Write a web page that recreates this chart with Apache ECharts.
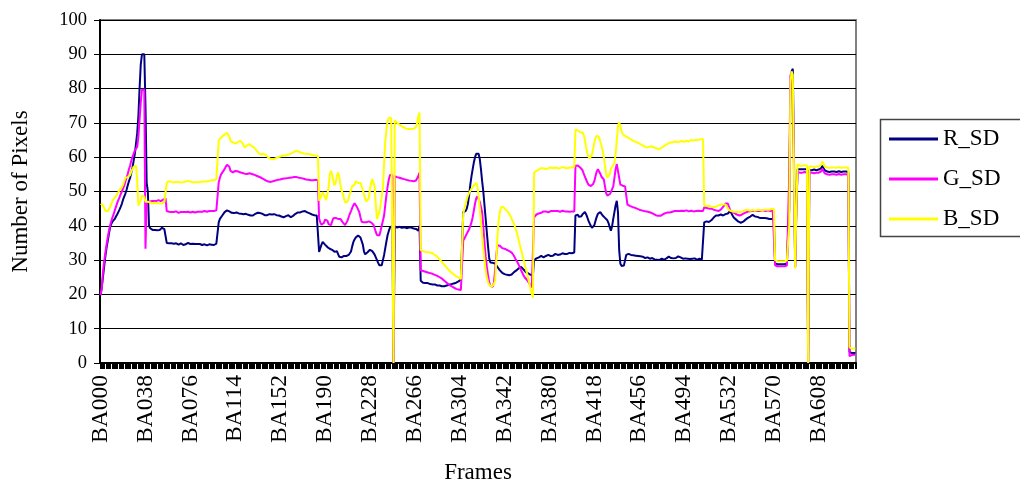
<!DOCTYPE html>
<html>
<head>
<meta charset="utf-8">
<script src="https://cdn.jsdelivr.net/npm/echarts@6/dist/echarts.min.js"></script>
<style>
html,body{margin:0;padding:0;background:#fff;}
#chart{width:1020px;height:489px;}
</style>
</head>
<body>
<div id="chart"></div>
<script>
// Frame labels BA000 ... BA639
const frameCount = 640;
const categories = [];
for (let i = 0; i < frameCount; i++) categories.push('BA' + String(i).padStart(3, '0'));

const seriesNames = ['R_SD', 'G_SD', 'B_SD'];
const yTicks = [0, 10, 20, 30, 40, 50, 60, 70, 80, 90, 100];

const rSD = [
19.8,22,25,28,31,33.5,35.5,37.5,39.5,40.5,41.2,41.7,42,42.7,43.3,44,44.7,45.5,46.4,47.6,
48.5,49.4,50.5,51.8,53,54,55.5,57,59,61,64,67,72,80,87,90,90.2,90,75,52.6,
50,40,39.3,39,38.8,38.7,38.8,38.9,38.7,38.6,38.8,39.2,39.4,39.3,39,38.9,35,34.8,34.9,35.1,
34.9,34.7,34.8,35,34.9,34.6,34.5,34.7,34.9,34.8,34.4,34.3,34.6,34.9,35,34.8,34.7,34.6,34.8,34.9,
34.7,34.6,34.7,34.8,34.7,34.5,34.4,34.5,34.6,34.4,34.3,34.5,34.6,34.7,34.5,34.3,34.4,34.6,34.8,35.2,
41,42,42.5,43,43.5,44,44.3,44.5,44.5,44.2,44,43.8,43.9,43.7,43.8,43.9,43.8,43.6,43.7,43.5,
43.5,43.4,43.3,43.5,43.4,43.2,43.1,43,43.1,43,43.2,43.5,43.7,43.8,43.8,43.7,43.6,43.5,43.3,43.1,
43,43.1,43.2,43.4,43.5,43.3,43.2,43.4,43.3,43.1,43,43,42.8,42.7,42.6,42.5,42.6,42.8,43,43.1,
42.7,42.5,42.6,42.9,43.2,43.5,43.8,43.9,43.8,43.9,44,44.2,44.3,44.3,44.1,43.9,43.7,43.6,43.4,43.3,
43.2,43.1,43,43,43.1,32.4,33.5,34.5,35.3,35,34.5,34.3,33.8,33.4,33.3,33.2,33,32.7,32.4,32.8,
32.6,31.8,31,30.5,30.8,31.2,31.2,31.3,31.2,31.4,31.5,31.6,32.5,34,35.3,36,36.6,37,37.2,37,
36.6,36.2,34.5,32.5,31.7,31.9,32.3,32.7,33,32.9,32.6,32.1,31.6,30.8,30,29.2,28.5,28.2,28.5,30,
31.5,33.5,35.5,37.3,38.5,39.5,40,40,0,39.8,39.6,39.5,39.6,39.7,39.5,39.4,39.5,39.6,39.4,39.3,
39.4,39.5,39.6,39.5,39.3,39.2,39.3,39.1,39,38.6,40,24,23.6,23.4,23.5,23.3,23.2,23.3,23.1,23,
23,22.9,22.8,22.9,22.8,22.6,22.5,22.6,22.5,22.4,22.5,22.4,22.5,22.6,22.7,22.8,22.9,23,23.1,23.2,
23.3,23.4,23.6,23.8,24,24.3,24.6,44,44,44.3,45,46.5,49,52,54.5,56.5,58.5,60,61,61.2,
61,59.5,56.5,53,50,46,42,38,34,30.5,29.3,29,29.2,29.1,29,28.5,28,27.5,27,26.7,
26.3,26,25.9,25.8,25.7,25.6,25.6,25.6,25.8,26.1,26.5,26.8,27,27.3,27.6,27.9,28,27.8,27.3,26.8,
26.5,26.3,26.1,25.9,25.7,25.6,25.6,30,30.3,30.5,30.6,30.8,31,31.2,31,30.8,31,31.2,31.4,31.5,
31.3,31.2,31.1,31.3,31.6,31.8,31.7,31.5,31.4,31.6,31.8,32,32,31.8,31.7,31.8,32,32.1,32,32,
32.1,32.2,43,43.5,43.2,42.6,42.4,42.8,43.4,43.8,44,43.4,42.5,41.5,40.7,40,39.4,39.3,40.2,41.5,
42.6,43.5,44,44,43.5,43,42.5,42.3,42,41.6,40.8,39.6,38.6,39.8,42,44,46,47.3,44,33,
29,28.3,28,28.4,30,31.5,32,31.8,31.6,31.5,31.6,31.4,31.2,31.3,31.4,31.2,31,31.1,31.2,31,
30.8,30.6,30.7,30.8,30.6,30.4,30.5,30.6,30.4,30.2,30.3,30.1,29.9,30,30.2,30.4,30.3,30.1,30.2,30.5,
30.8,31,30.8,30.6,30.7,30.5,30.4,30.6,30.9,31.1,31,30.8,30.6,30.4,30.3,30.5,30.6,30.4,30.2,30.3,
30.5,30.4,30.2,30.5,30.3,30.1,30.2,30.4,30.2,30.1,30.2,41,41.2,41.3,41.2,41.1,41.3,41.6,42,42.4,
42.8,43,43.1,43,43.2,43.3,43.1,43,43.2,43.4,43.3,43.6,44,44.3,43.8,43,42.4,42.1,41.8,41.5,
41.2,41,40.9,40.9,41.2,41.5,41.8,42,42.3,42.5,42.7,43,43.2,43,42.7,42.5,42.6,42.4,42.3,42.4,
42.3,42.2,42.3,42.1,42.2,42.1,42,42.1,42,42,42,29,28.9,28.8,28.9,28.8,28.7,28.8,28.9,28.8,
28.9,29,29,45,80,85,85.8,60,28,45,56.5,56.6,56.5,56.4,56.5,56.6,56.5,56.4,56.5,0,
56.3,56.3,56.2,56.3,56.4,56.3,56.2,56.3,56.4,56.5,56.8,57.5,57.2,56.2,55.9,55.8,55.8,55.7,55.8,55.8,
55.7,55.8,55.8,55.7,55.8,55.9,55.8,55.7,55.8,55.8,55.7,55.8,55.8,55.7,3.2,3,2.9,2.9,2.9,2.9
];

const gSD = [
19.8,22,26.5,29.5,32,34.5,36.5,38.5,40,41.3,42.4,43.3,44.5,45.5,46.6,47.5,48.3,49.2,50,50.8,
51.7,52.9,54,55.2,56.5,57.6,59,60,61,62,62.3,63,66,71,76,79.7,79.8,79.7,33.3,47,
47.2,47,47.1,47.2,47.3,47.2,47.1,47.2,47.4,47.5,47.3,47.2,47.4,47.6,47.8,48,44.3,44,44.1,44.2,
44,43.9,44,44.1,44.2,44,43.8,43.9,44,44.1,44,43.9,44,44.2,44.1,44,43.9,44,44.1,44,
43.9,44,44.1,44.2,44.1,44,44.1,44.2,44.3,44.2,44.1,44.2,44.3,44.4,44.3,44.2,44.3,44.4,44.5,44.6,
52.6,54,55,55.5,56,56.5,57.2,57.8,58,57.2,56,55.5,55.6,55.8,56,56,55.9,55.8,55.6,55.5,
55.4,55.3,55.2,55.1,55.1,55.2,55.3,55.2,55.1,55,54.9,54.8,54.6,54.4,54.3,54.2,54,53.8,53.6,53.4,
53.2,53,52.9,52.8,52.8,52.9,53,53.1,53.2,53.3,53.4,53.5,53.5,53.6,53.7,53.7,53.8,53.8,53.9,54,
54,54.1,54.1,54.2,54.2,54.2,54.2,54.1,54,54,53.9,53.8,53.7,53.6,53.5,53.4,53.4,53.3,53.3,53.3,
53.3,53.3,53.4,53.3,53.3,42,41,40.3,40,40.8,41.8,42,41.5,40.5,40,40.2,41.2,42.2,42.5,42.3,
42,42,42.1,42,41.5,41,40.5,40.2,40.5,41.5,42.5,43.5,44.3,45.2,46,46.6,46.4,45.5,45.2,44,
42.5,41.2,41,41,41.1,41,41.2,41.3,41.1,41,40.8,40.3,39.3,38.2,37.3,36.8,37.2,38.5,40,41.5,
43,46,49,51.5,53.5,54.8,55,54.8,0,54.5,54.3,54.2,54.1,54,53.9,53.8,53.7,53.6,53.5,53.4,
53.3,53.2,53.1,53.1,53,53,53,53.2,53.6,54.5,55.5,27,26.8,26.8,26.7,26.6,26.5,26.4,26.3,26.2,
26.1,26,25.8,25.7,25.6,25.4,25.2,25,24.8,24.6,24.3,24,23.7,23.4,23.1,22.8,22.6,22.4,22.2,22,
21.8,21.6,21.5,21.4,21.3,21.3,21.3,35.7,36.3,37,37.7,38.2,39,40,41,42.5,44.5,46.5,48,48.6,
48.3,47,45.5,44,40,35,31,28,25.5,23.5,22.5,22,22.2,23.5,27,31.5,34.3,34.5,34.2,33.8,
33.5,33.4,33.3,33.2,33,32.8,32.6,32.4,32.2,31.8,31.2,30.5,30,29.3,28.6,27.8,27,26.3,25.6,25,
24.6,24.2,23.7,23.2,22.6,22,21.6,42.5,43,43.3,43.5,43.6,43.7,43.8,44,44.2,44.3,44.2,44,43.9,
44.1,44.3,44.4,44.3,44.2,44.3,44.5,44.3,44.2,44.1,44.2,44.4,44.3,44.2,44.3,44.2,44,44.1,44.3,44.2,
44.1,44.2,57.5,57.8,57.6,57.3,57,56.8,56.2,55.2,54.3,53.5,52.7,52,51.6,51.6,51.8,52.2,53,54.5,
55.8,56.5,56.3,55.2,54.3,54,53.5,51.5,49.5,48.8,48.8,49.2,49.8,50.2,51.5,54,56.5,58,57.5,54,
52,51.8,51.7,51.6,51.5,51.5,46.2,46,45.8,45.6,45.5,45.4,45.3,45.2,45,44.8,44.7,44.6,44.5,44.4,
44.3,44.3,44.2,44.1,44,43.9,43.8,43.7,43.5,43.3,43.1,43,42.9,42.8,42.9,43.1,43.3,43.5,43.7,43.8,
43.9,44,43.9,44,44.1,44.2,44.3,44.4,44.3,44.2,44.3,44.4,44.4,44.3,44.3,44.4,44.5,44.3,44.2,44.3,
44.4,44.3,44.2,44.4,44.3,44.2,44.4,44.5,44.3,44.2,44.3,45.4,45.3,45.2,45.1,45,45.1,45,44.8,44.7,
44.6,44.5,44.4,44.3,44.5,44.7,45,45.5,46,46.5,46.8,46.5,45.5,44.5,44.2,44,43.8,43.6,43.4,43.2,
43,43,43.1,43.3,43.5,43.7,43.9,44,44.1,44.2,44.2,44.3,44.2,44.3,44.4,44.3,44.2,44.3,44.4,44.3,
44.4,44.5,44.4,44.3,44.4,44.5,44.4,44.3,44.4,44.5,44.4,28.5,28.3,28.2,28.3,28.2,28.1,28.2,28.3,28.2,
28.3,28.4,28.5,55,84,84.5,80,55,28,45,55.7,55.6,55.5,55.6,55.5,55.6,55.7,55.6,55.5,0,
55.5,55.4,55.5,55.4,55.3,55.4,55.5,55.4,55.5,55.6,55.9,56.6,56.4,55.3,55.1,55,55,54.9,55,55,
54.9,55,55,54.9,55,55.1,55,54.9,55,55,54.9,55,55,54.9,2,2.2,2.3,2.4,2.4,2.4
];

const bSD = [
46.4,46.5,46,45.2,44.4,44,44.2,44.8,45.4,46.3,47.2,47.8,48.2,48.6,49.2,49.8,50.5,50.8,51.2,52,
53,54,54.1,54.2,54.5,54.8,55.8,56.5,57.2,57.4,57.5,53,45.9,46,47.5,48.8,48.9,48.5,47,47.2,
47,47,46.8,46.6,46.5,46.6,46.7,46.8,46.6,46.5,46.6,46.7,46.5,46.6,46.9,47.3,52.6,52.9,53,52.9,
52.8,52.7,52.6,52.7,52.8,52.9,52.8,52.7,52.6,52.6,52.7,52.8,52.9,53,53.1,53,52.9,52.8,52.7,52.6,
52.7,52.8,52.7,52.6,52.7,52.8,52.9,53,52.9,52.8,52.9,53,53.1,53.2,53.3,53.2,53.3,53.4,53.6,54,
64.7,65.5,66,66,66.3,66.6,66.8,67.1,67.2,66,64.7,64.5,64.3,64.1,64,64,64.3,64.6,64.8,64.7,
64.2,63.5,62.8,63,63.4,63.8,63.8,63.5,63.2,62.9,62.8,62.5,62,61.5,61.1,60.9,60.8,60.9,61,60.9,
60.6,60.2,59.9,59.6,59.5,59.4,59.4,59.5,59.6,59.8,60,60.1,60.2,60.3,60.4,60.4,60.5,60.6,60.7,60.8,
60.9,61,61.2,61.4,61.6,61.8,61.8,61.7,61.6,61.4,61.3,61.2,61.1,61,61,60.9,60.9,60.8,60.8,60.7,
60.6,60.5,60.4,60.4,60.4,47.3,48,49,49.8,49.3,48.3,47.5,47.5,51,55,56,55,53.2,51.8,52.5,
54.5,55.5,54.5,52,50.2,49.5,48,46.8,46.4,47,48,49.3,50.5,51.5,51.7,52,53,52.8,52.5,52.6,
52.5,52,50.5,49,48,47,46.8,48,50.5,52.5,53.6,53.5,51.5,46,42,42.5,44,46,48.5,51,
58,64.5,68,70.5,71.5,72,71.5,71,0,70.8,70.4,70,69.8,69.5,69.3,69,68.8,68.6,68.5,68.3,
68.2,68.2,68.3,68.2,68.3,68.3,68.4,68.8,70,72,73,32.9,32.8,32.6,32.5,32.4,32.4,32.3,32.2,32.2,
32.1,32,31.8,31.5,31.2,31,30.6,30.2,29.8,29.4,29,28.6,28.2,27.8,27.4,27,26.7,26.4,26.1,25.8,
25.5,25.3,25.1,24.9,24.7,24.5,24.4,43.5,45,46.5,47.8,48.8,49.6,50.2,50.8,51.3,51.8,52.3,52.5,51.5,
48.5,45,41,37,33.5,30,27,25,23.6,22.8,22.3,22.2,22.5,23,24,30,37,41.5,44,45.4,
45.8,45.5,45,44.6,44.3,44,43.5,42.8,42,41.3,40.5,39.5,38.5,37.2,35.8,34.3,33,31.6,30.2,28.8,
27.5,26.2,24.8,23.2,21.6,20.3,19,55.5,55.7,56,56.2,56.4,56.6,56.8,57,56.8,56.6,56.5,56.6,56.8,
57,57,56.9,56.8,56.9,57,56.9,56.8,56.7,56.8,57,57.1,57,56.9,56.8,56.8,56.9,57,57,57,
57.1,57.2,68,68.2,67.8,67.5,67.3,67.3,67.2,66.5,65,63,61.3,60.2,59.6,59.7,60.8,62.5,64.2,65.5,
66.3,66.4,65.8,64.5,63.5,62,60,57.5,55.2,54,54,55,56.5,57.2,57.6,58.3,61,65,69,70.2,
69,67.5,66.7,66.5,66.2,66,65.8,65.6,65.4,65.2,65,64.8,64.6,64.5,64.3,64.2,64,63.8,63.6,63.4,
63.2,63,62.8,62.9,63,63.1,63.2,63.1,62.9,62.8,62.7,62.5,62.3,62.4,62.6,62.8,63,63.3,63.5,63.7,
63.9,64.1,64.3,64.4,64.3,64.4,64.6,64.5,64.4,64.3,64.5,64.6,64.7,64.6,64.5,64.7,64.8,64.7,64.6,64.8,
65,65.1,64.9,64.8,65,65.2,65.1,65,65.2,65.3,65.2,45.9,45.9,45.8,45.9,45.8,45.7,45.6,45.5,45.4,
45.5,45.6,45.8,45.9,46,46.2,46.1,46.2,46.3,46.2,46,45.2,44.6,44.4,44.3,44.2,44.1,44,44,43.9,
44,44.1,44,44.2,44.3,44.5,44.6,44.7,44.6,44.5,44.4,44.5,44.6,44.5,44.4,44.5,44.6,44.7,44.6,44.5,
44.4,44.5,44.7,44.8,44.7,44.6,44.7,44.8,44.9,44.9,44.9,30,29.8,29.7,29.8,29.7,29.6,29.7,29.8,29.7,
29.8,29.9,30,40,82,85,84,56,27.5,45,58,57.6,57.5,57.6,57.5,57.6,57.7,57.6,57.5,0,
57.3,57.2,57.3,57.2,57.1,57.2,57.3,57.2,57.3,57.4,57.8,58.8,58.5,57.3,57.1,57,57,56.9,57,57,
56.9,57,57,56.9,57,57.1,57,56.9,57,57,56.9,57,57,56.9,4.6,4.3,4.2,4.2,4.2,4.2
];

const seriesData = [rSD, gSD, bSD];
const seriesColors = ['#000080', '#FF00FF', '#FFFF00'];
const FONT = 'Liberation Serif';

const chart = echarts.init(document.getElementById('chart'), null, {renderer: 'canvas'});
chart.setOption({
  animation: false,
  backgroundColor: '#ffffff',
  grid: {
    left: 100, top: 20, width: 756, height: 345,
    show: true, borderColor: '#808080', borderWidth: 2
  },
  legend: {
    data: seriesNames,
    orient: 'vertical',
    left: 889, top: 127,
    padding: 0,
    itemWidth: 49, itemHeight: 3, itemGap: 16,
    icon: 'rect',
    textStyle: {fontFamily: FONT, fontSize: 23, color: '#000', lineHeight: 24}
  },
  graphic: [{
    type: 'rect',
    shape: {x: 880.5, y: 119.5, width: 150, height: 117},
    style: {fill: 'none', stroke: '#444', lineWidth: 1.5},
    silent: true
  }],
  xAxis: {
    type: 'category',
    data: categories,
    boundaryGap: true,
    name: 'Frames',
    nameLocation: 'middle',
    nameGap: 98,
    nameTextStyle: {fontFamily: FONT, fontSize: 23, color: '#000'},
    axisLine: {lineStyle: {color: '#000', width: 2}},
    axisTick: {show: true, interval: 0, length: 6, lineStyle: {color: '#000', width: 1}},
    axisLabel: {interval: 37, rotate: 90, fontFamily: FONT, fontSize: 23.5, color: '#000', margin: 12},
    splitLine: {show: false}
  },
  yAxis: {
    type: 'value',
    min: yTicks[0], max: yTicks[yTicks.length - 1], interval: 10,
    name: 'Number of Pixels',
    nameLocation: 'middle',
    nameGap: 68,
    nameRotate: 90,
    nameTextStyle: {fontFamily: FONT, fontSize: 23, color: '#000'},
    axisLine: {show: true, lineStyle: {color: '#000', width: 2}},
    axisTick: {show: true, length: 6, lineStyle: {color: '#000', width: 1}},
    axisLabel: {fontFamily: FONT, fontSize: 18.5, color: '#000', margin: 13},
    splitLine: {show: true, lineStyle: {color: '#000', width: 1}}
  },
  series: seriesNames.map((n, i) => ({
    name: n,
    type: 'line',
    data: seriesData[i],
    showSymbol: false,
    symbol: 'none',
    lineStyle: {color: seriesColors[i], width: 2},
    itemStyle: {color: seriesColors[i]},
    z: 2 + i
  }))
});
</script>
</body>
</html>
